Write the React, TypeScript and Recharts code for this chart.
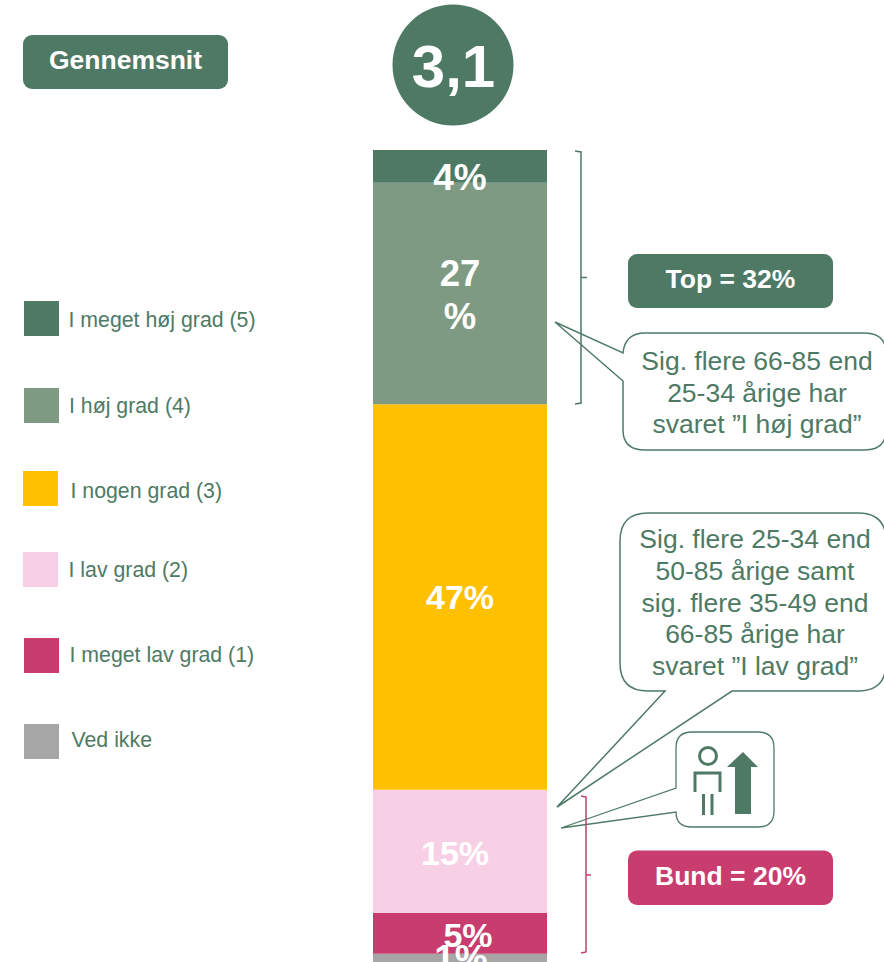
import React from 'react';
import { BarChart, Bar, XAxis, YAxis, Legend, LabelList } from 'recharts';

// bottom of the stack first
const seriesNames = ['Ved ikke', 'I meget lav grad (1)', 'I lav grad (2)', 'I nogen grad (3)', 'I høj grad (4)', 'I meget høj grad (5)'];
const seriesValues = [1, 5, 15, 47, 27, 4];
const seriesColors = ['#A6A6A6', '#C83C6E', '#F8D0E5', '#FFC000', '#7F9A82', '#4E7A65'];

const chartRow: Record<string, string | number> = { name: 'Alle' };
seriesNames.forEach((n, i) => { chartRow[n] = seriesValues[i]; });
const chartData = [chartRow];

const GREEN = '#4E7A65';
const PINK = '#C83C6E';
const FONT = '"Liberation Sans", Arial, sans-serif';

// hand placed, same as in the original slide
const legendSpots: Record<string, { x: number; y: number; textX: number; baseline: number }> = {
  'I meget høj grad (5)': { x: 24, y: 301, textX: 68.5, baseline: 327 },
  'I høj grad (4)': { x: 24, y: 388, textX: 69, baseline: 413 },
  'I nogen grad (3)': { x: 23, y: 471, textX: 70.5, baseline: 498 },
  'I lav grad (2)': { x: 23, y: 552, textX: 68.5, baseline: 577 },
  'I meget lav grad (1)': { x: 24, y: 638, textX: 69.5, baseline: 662 },
  'Ved ikke': { x: 24, y: 724, textX: 71.5, baseline: 747 },
};

const labelNudge: Record<string, { dx: number; dy: number; size: number }> = {
  'I meget høj grad (5)': { dx: 0, dy: 10, size: 37 },
  'I høj grad (4)': { dx: 0, dy: 0, size: 36.5 },
  'I nogen grad (3)': { dx: 0, dy: 0, size: 34 },
  'I lav grad (2)': { dx: -5, dy: 1, size: 34 },
  'I meget lav grad (1)': { dx: 8, dy: 1, size: 34 },
  'Ved ikke': { dx: 1, dy: 0, size: 37 },
};

const callout1 = ['Sig. flere 66-85 end', '25-34 årige har', 'svaret ”I høj grad”'];
const callout2 = ['Sig. flere 25-34 end', '50-85 årige samt', 'sig. flere 35-49 end', '66-85 årige har', 'svaret ”I lav grad”'];

const makeLabel = (name: string) => (props: any) => {
  const { x, y, width, height, value } = props;
  const nudge = labelNudge[name];
  const cx = x + width / 2 + nudge.dx;
  const cy = y + height / 2 + nudge.dy;
  const common = { x: cx, textAnchor: 'middle' as const, fill: '#fff', fontSize: nudge.size, fontWeight: 700, fontFamily: FONT };
  // the 27% label wraps in the narrow text box
  if (name === 'I høj grad (4)') {
    return (
      <g>
        <text {...common} y={cy - 8}>{value}</text>
        <text {...common} y={cy + 35}>%</text>
      </g>
    );
  }
  return <text {...common} y={cy + nudge.size * 0.36}>{value}%</text>;
};

const renderLegend = (props: any) => {
  const items = props.payload || [];
  return (
    <svg width={300} height={800} style={{ display: 'block', overflow: 'visible' }}>
      {items.map((item: any) => {
        const spot = legendSpots[item.value];
        return (
          <g key={item.value}>
            <rect x={spot.x} y={spot.y} width={35} height={35} fill={item.color} />
            <text x={spot.textX} y={spot.baseline} fontSize={21.3} fill={GREEN} fontFamily={FONT}>{item.value}</text>
          </g>
        );
      })}
    </svg>
  );
};

const Badge = ({ x, y, w, h, fill, text }: any) => (
  <g>
    <rect x={x} y={y} width={w} height={h} rx={9} fill={fill} />
    <text x={x + w / 2} y={y + h / 2 + 7} textAnchor="middle" fontSize={26.5} fontWeight={700} fill="#fff" fontFamily={FONT}>{text}</text>
  </g>
);

const Lines = ({ lines, x, y, step }: any) => (
  <g>
    {lines.map((l: string, i: number) => (
      <text key={l} x={x} y={y + i * step} textAnchor="middle" fontSize={26.5} fill={GREEN} fontFamily={FONT}>{l}</text>
    ))}
  </g>
);

const Overlay = () => (
  <svg width={884} height={962} style={{ position: 'absolute', left: 0, top: 0, pointerEvents: 'none' }}>
    <Badge x={23} y={35} w={205} h={54} fill={GREEN} text="Gennemsnit" />
    <circle cx={453} cy={65} r={60.5} fill={GREEN} />
    <text x={453.500} y={87} textAnchor="middle" fontSize={60} fontWeight={700} fill="#fff" fontFamily={FONT}>3,1</text>

    <Badge x={628} y={254} w={205} h={54} fill={GREEN} text="Top = 32%" />
    <Badge x={628} y={850.500} w={205} h={54.500} fill={PINK} text="Bund = 20%" />

    {/* upper callout */}
    <path d="M623 353 Q625 333 645 333 L864 333 Q886 333 886 353 L886 430 Q886 450 864 450 L645 450 Q623 450 623 430 L623 381 L555 322 Z" fill="#fff" stroke={GREEN} strokeWidth={1.5} />
    <Lines lines={callout1} x={757} y={370} step={31.7} />

    {/* lower callout */}
    <path d="M648 513 L858 513 Q886 513 886 541 L886 663 Q886 691 858 691 L732 691 L557 807 L665 691 L648 691 Q620 691 620 663 L620 541 Q620 513 648 513 Z" fill="#fff" stroke={GREEN} strokeWidth={1.5} />
    <Lines lines={callout2} x={755} y={548} step={31.8} />

    {/* icon box */}
    <path d="M692 732 L758 732 Q774 732 774 748 L774 811 Q774 827 758 827 L692 827 Q676 827 676 812 L561 828 L676 788 L676 748 Q676 732 692 732 Z" fill="#fff" stroke={GREEN} strokeWidth={1.3} />
    <circle cx={708} cy={756} r={8.5} fill="none" stroke={GREEN} strokeWidth={3} />
    <path d="M695 792 L695 773 L720 773 L720 792" fill="none" stroke={GREEN} strokeWidth={3} />
    <path d="M703.500 794 L703.500 815 M712 794 L712 815" fill="none" stroke={GREEN} strokeWidth={3} />
    <path d="M743 752 L758 767 L751 767 L751 814 L735 814 L735 767 L727 767 Z" fill={GREEN} />

    {/* braces */}
    <path d="M575 151 L581 152 L581 403 L575 404 M581 277.500 L587 277.500" fill="none" stroke={GREEN} strokeWidth={1.5} />
    <path d="M581 796 L586 797 L586 952 L581 953 M586 875 L591 875" fill="none" stroke={PINK} strokeWidth={1.5} />
  </svg>
);

export default function App() {
  return (
    <div style={{ position: 'absolute', left: 0, top: 0, width: 884, height: 962, overflow: 'hidden', background: '#fff' }}>
      <BarChart
        width={884}
        height={962}
        data={chartData}
        margin={{ top: 150, right: 337, bottom: 0, left: 373 }}
        barCategoryGap={0}
      >
        <XAxis dataKey="name" hide />
        <YAxis hide domain={[0, 99]} />
        {/* zero height wrapper so the legend does not take room from the plot */}
        <Legend content={renderLegend} itemSorter={null} wrapperStyle={{ left: 0, top: 0, width: 300, height: 0 }} />
        {seriesNames.map((n, i) => (
          <Bar key={n} dataKey={n} stackId="a" fill={seriesColors[i]} isAnimationActive={false}>
            <LabelList dataKey={n} content={makeLabel(n)} />
          </Bar>
        ))}
      </BarChart>
      <Overlay />
    </div>
  );
}
